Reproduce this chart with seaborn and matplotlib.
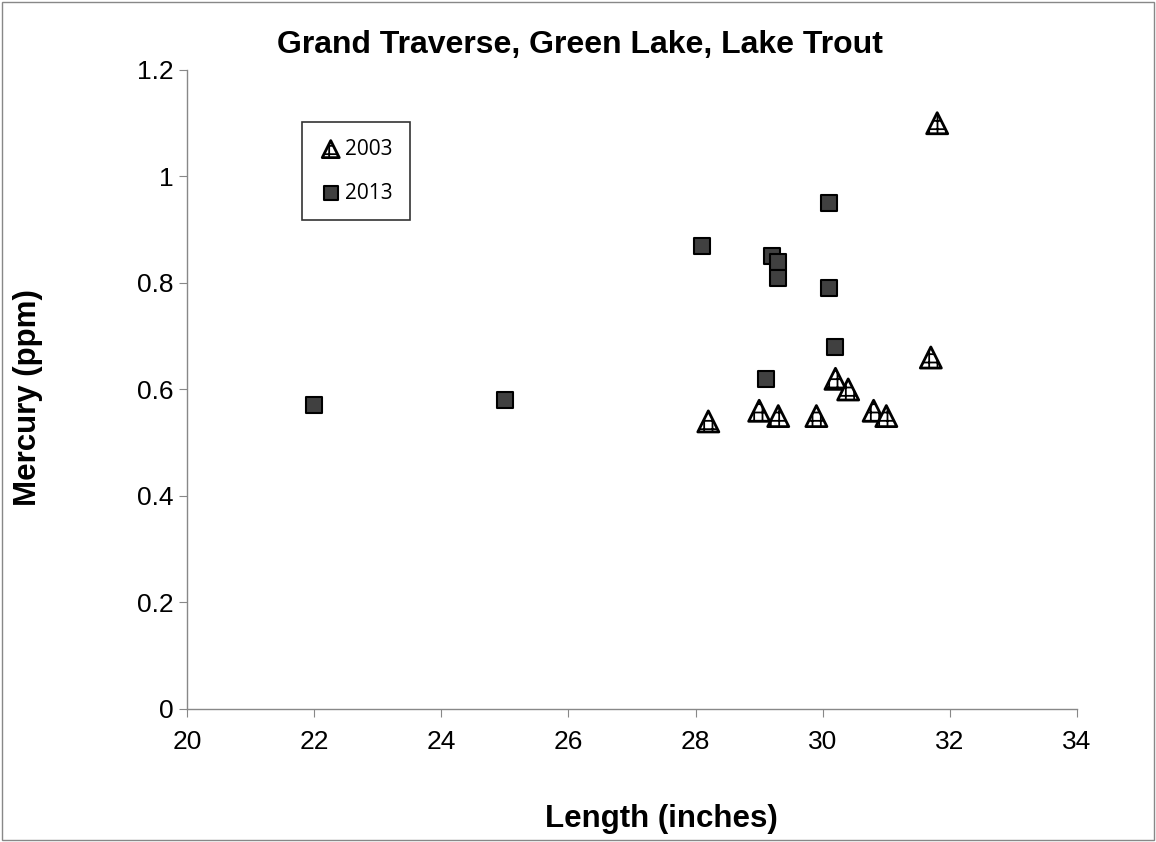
import pandas as pd
import seaborn as sns
import matplotlib.pyplot as plt

# data
len_2003 = [28.2, 29.0, 29.3, 29.9, 30.2, 30.4, 30.8, 31.0, 31.7, 31.8]
hg_2003 = [0.54, 0.56, 0.55, 0.55, 0.62, 0.60, 0.56, 0.55, 0.66, 1.10]
len_2013 = [22.0, 25.0, 28.1, 29.2, 29.3, 29.3, 30.1, 30.1, 30.2, 29.1]
hg_2013 = [0.57, 0.58, 0.87, 0.85, 0.84, 0.81, 0.95, 0.79, 0.68, 0.62]

df03 = pd.DataFrame({'Length': len_2003, 'Mercury': hg_2003})
df13 = pd.DataFrame({'Length': len_2013, 'Mercury': hg_2013})

sns.set_style('white')
plt.rcParams['font.family'] = ['Liberation Sans', 'DejaVu Sans']
plt.rcParams['text.color'] = 'black'
plt.rcParams['axes.labelcolor'] = 'black'
plt.rcParams['xtick.color'] = 'black'
plt.rcParams['ytick.color'] = 'black'
plt.rcParams['hatch.linewidth'] = 1.3

fig = plt.figure(figsize=(11.56, 8.42), dpi=100)
ax = fig.add_axes([0.1618, 0.158, 0.7699, 0.7589])

sns.scatterplot(data=df03, x='Length', y='Mercury', marker='^', s=230,
                facecolor='white', edgecolor='black', linewidth=2, label='2003', ax=ax, zorder=3)
sns.scatterplot(data=df13, x='Length', y='Mercury', marker='s', s=120,
                color='#404040', edgecolor='black', linewidth=1.5, label='2013', ax=ax, zorder=3)
ax.collections[0].set_hatch('++')

ax.set_xlim(20, 34)
ax.set_ylim(0, 1.2)
ax.set_xticks(range(20, 35, 2))
ax.set_yticks([0, 0.2, 0.4, 0.6, 0.8, 1.0, 1.2])
ax.set_yticklabels(['0', '0.2', '0.4', '0.6', '0.8', '1', '1.2'])
ax.tick_params(labelsize=19, length=6, direction='out', color='#888888', bottom=True, left=True)
ax.tick_params(axis='x', pad=9)
for side in ['top', 'right']:
    ax.spines[side].set_visible(False)
for side in ['left', 'bottom']:
    ax.spines[side].set_color('#888888')
    ax.spines[side].set_linewidth(1)

ax.set_xlabel('Length (inches)', fontsize=22.5, fontweight='bold', labelpad=36)
ax.set_ylabel('Mercury (ppm)', fontsize=22.5, fontweight='bold', labelpad=68)
ax.xaxis.label.set_x(0.5326)
ax.yaxis.label.set_y(0.488)
ax.set_title('Grand Traverse, Green Lake, Lake Trout', fontsize=23, fontweight='bold',
             x=0.4416, pad=12)

leg = ax.legend(loc='upper left', bbox_to_anchor=(0.117, 0.935), frameon=True, fancybox=False,
                edgecolor='black', handletextpad=0.1, borderpad=0.8,
                labelspacing=1.1, handlelength=1.2, prop={'family': 'Open Sans', 'size': 15})
leg.get_frame().set_linewidth(1.2)
sizes = [150, 110]
for h, sz in zip(leg.legend_handles, sizes):
    h.set_sizes([sz])
leg.legend_handles[0].set_hatch('++')

fig.patches.append(plt.Rectangle((0.002, 0.002), 0.996, 0.996, transform=fig.transFigure,
                                 fill=False, edgecolor='#888888', linewidth=1))

fig.savefig('out.png', dpi=100)
